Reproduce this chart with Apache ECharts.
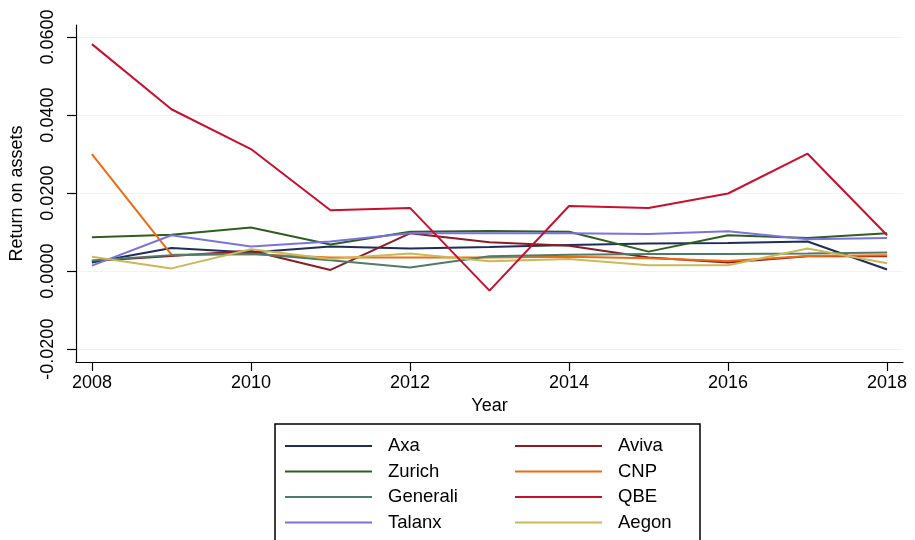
<!DOCTYPE html>
<html>
<head>
<meta charset="utf-8">
<script src="https://cdn.jsdelivr.net/npm/echarts@6/dist/echarts.min.js"></script>
<style>html,body{margin:0;padding:0;background:#fff;}#c{width:915px;height:540px;}</style>
</head>
<body>
<div id="c"></div>
<script>
var years = [2008, 2009, 2010, 2011, 2012, 2013, 2014, 2015, 2016, 2017, 2018];
var xTicks = [2008, 2010, 2012, 2014, 2016, 2018];
var yTicks = [-0.02, 0, 0.02, 0.04, 0.06];

var axa      = [0.0022, 0.0059, 0.0048, 0.0063, 0.0058, 0.0062, 0.0067, 0.0071, 0.0072, 0.0076, 0.0004];
var aviva    = [0.0026, 0.0039, 0.0052, 0.0003, 0.0097, 0.0074, 0.0065, 0.0035, 0.0022, 0.0038, 0.0038];
var zurich   = [0.0087, 0.0093, 0.0112, 0.0068, 0.0101, 0.0103, 0.0101, 0.0050, 0.0092, 0.0085, 0.0097];
var cnp      = [0.0300, 0.0042, 0.0043, 0.0035, 0.0035, 0.0035, 0.0037, 0.0033, 0.0026, 0.0039, 0.0041];
var generali = [0.0027, 0.0041, 0.0045, 0.0028, 0.0009, 0.0038, 0.0042, 0.0044, 0.0044, 0.0045, 0.0048];
var qbe      = [0.0582, 0.0415, 0.0313, 0.0156, 0.0162, -0.0050, 0.0167, 0.0162, 0.0199, 0.0301, 0.0092];
var talanx   = [0.0014, 0.0092, 0.0063, 0.0076, 0.0097, 0.0097, 0.0097, 0.0095, 0.0102, 0.0082, 0.0085];
var aegon    = [0.0037, 0.0007, 0.0056, 0.0031, 0.0045, 0.0025, 0.0031, 0.0015, 0.0015, 0.0058, 0.0020];

var names  = ['Axa', 'Aviva', 'Zurich', 'CNP', 'Generali', 'QBE', 'Talanx', 'Aegon'];
var values = [axa, aviva, zurich, cnp, generali, qbe, talanx, aegon];
var colors = ['#1f2d5c', '#8b1c24', '#2f5f1f', '#ef6b12', '#4e7c6a', '#c8102e', '#7a72e0', '#c9b959'];

var FONT = 'Liberation Sans, Arial, sans-serif';

function pairs(arr) {
  return years.map(function (y, i) { return [y, arr[i]]; });
}

var series = names.map(function (n, i) {
  return {
    name: n,
    type: 'line',
    data: pairs(values[i]),
    symbol: 'none',
    showSymbol: false,
    lineStyle: { width: 2, color: colors[i] },
    itemStyle: { color: colors[i] },
    z: (n === 'QBE') ? 5 : 3,
    animation: false
  };
});

var legendCommon = {
  orient: 'vertical',
  icon: 'rect',
  itemWidth: 87,
  itemHeight: 2,
  itemGap: 5.5,
  top: 436,
  padding: 0,
  height: 104,
  textStyle: { fontFamily: FONT, fontSize: 18.5, color: '#000', lineHeight: 20, padding: [0, 0, 0, 11] },
  selectedMode: false
};

var option = {
  backgroundColor: '#fff',
  animation: false,
  color: colors,
  grid: { left: 72, right: 12, top: 25, bottom: 178, containLabel: false },
  xAxis: {
    type: 'value',
    min: 2007.8,
    max: 2018.2,
    name: 'Year',
    nameLocation: 'middle',
    nameGap: 32,
    nameTextStyle: { fontFamily: FONT, fontSize: 18, color: '#000' },
    axisLine: { show: true, onZero: false, lineStyle: { color: '#000', width: 1.2 } },
    axisTick: { show: true, length: 9, lineStyle: { color: '#000', width: 1.2 }, customValues: xTicks },
    axisLabel: { fontFamily: FONT, fontSize: 18, color: '#000', margin: 12, customValues: xTicks,
      formatter: function (v) { return String(v); } },
    splitLine: { show: false }
  },
  yAxis: {
    type: 'value',
    min: -0.0233,
    max: 0.0631,
    name: 'Return on assets',
    nameLocation: 'middle',
    nameGap: 50,
    nameRotate: 90,
    nameTextStyle: { fontFamily: FONT, fontSize: 18, color: '#000' },
    axisLine: { show: true, onZero: false, lineStyle: { color: '#000', width: 1.2 } },
    axisTick: { show: true, length: 9, lineStyle: { color: '#000', width: 1.2 }, customValues: yTicks },
    axisLabel: { fontFamily: FONT, fontSize: 18, color: '#000', rotate: 90, margin: 19, customValues: yTicks,
      formatter: function (v) { return v.toFixed(4); } },
    splitLine: { show: true, lineStyle: { color: '#eef3f3', width: 1 } }
  },
  legend: [
    Object.assign({}, legendCommon, { left: 285, data: ['Axa', 'Zurich', 'Generali', 'Talanx'] }),
    Object.assign({}, legendCommon, { left: 515, data: ['Aviva', 'CNP', 'QBE', 'Aegon'] })
  ],
  graphic: [{
    type: 'rect',
    shape: { x: 275, y: 424, width: 425, height: 140 },
    style: { fill: 'none', stroke: '#000', lineWidth: 1.5 },
    silent: true
  }],
  series: series
};

var chart = echarts.init(document.getElementById('c'), null, { renderer: 'canvas' });
chart.setOption(option);
</script>
</body>
</html>
